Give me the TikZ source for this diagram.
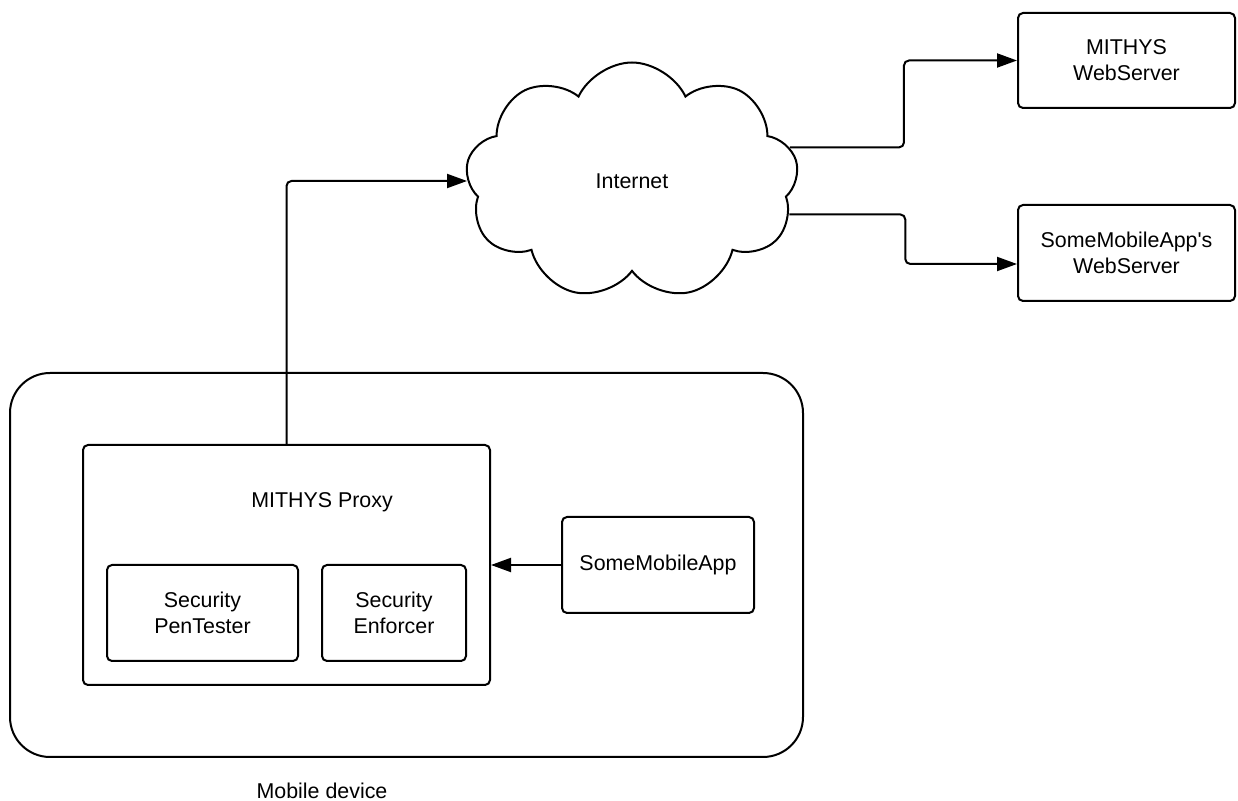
\documentclass[tikz,border=0pt]{standalone}
\usepackage{fontspec}
\setmainfont{Liberation Sans}
\usetikzlibrary{%
	arrows.meta,%
	shapes.symbols%
}

\begin{document}
\begin{tikzpicture}[x=0.5pt,y=-0.5pt,
	font=\fontsize{10.7}{13}\selectfont,
	box/.style={draw,line width=1pt,rounded corners=2.5pt,align=center,inner sep=0pt},
	conn/.style={line width=1pt,rounded corners=2.5pt,-{Triangle[length=10pt,width=7pt]}}]
	\useasboundingbox (0,0) rectangle (1238,801);

	% Mobile device and what runs on it
	\node[box,rounded corners=20pt,minimum width=396.5pt,minimum height=192pt] (device) at (406.5,565) {};
	\node (devlabel) at (322,791) {Mobile device};
	\node[box,minimum width=203.5pt,minimum height=120pt] (proxy) at (286.5,565) {};
	\node (proxylabel) at (322,502) {MITHYS Proxy};
	\node[box,minimum width=95.5pt,minimum height=48pt] (pentester) at (202.5,613) {Security\\PenTester};
	\node[box,minimum width=72pt,minimum height=48pt] (enforcer) at (394,613) {Security\\Enforcer};
	\node[box,minimum width=96pt,minimum height=48pt] (app) at (658,565) {SomeMobileApp};

	% Internet and the servers
	\node[cloud,draw,line width=1pt,cloud puffs=9,cloud puff arc=130,aspect=1.4,minimum width=166.5pt,minimum height=118.5pt,inner sep=0pt] (inet) at (632,181) {Internet};
	\node[box,minimum width=108.5pt,minimum height=47.5pt] (mws) at (1126.5,60.5) {MITHYS\\WebServer};
	\node[box,minimum width=108.5pt,minimum height=48pt] (aws) at (1126.5,253) {SomeMobileApp\textquotesingle s\\WebServer};

	% Connectors
	\draw[conn] (app.west) -- (proxy.east);
	\draw[conn] (proxy.north) |- (inet.west);
	\draw[conn] (inet.12) -- ++(114,0) |- (mws.west);
	\draw[conn] (inet.-12) -- ++(116,0) |- ([yshift=-5.5pt]aws.west);
\end{tikzpicture}
\end{document}
